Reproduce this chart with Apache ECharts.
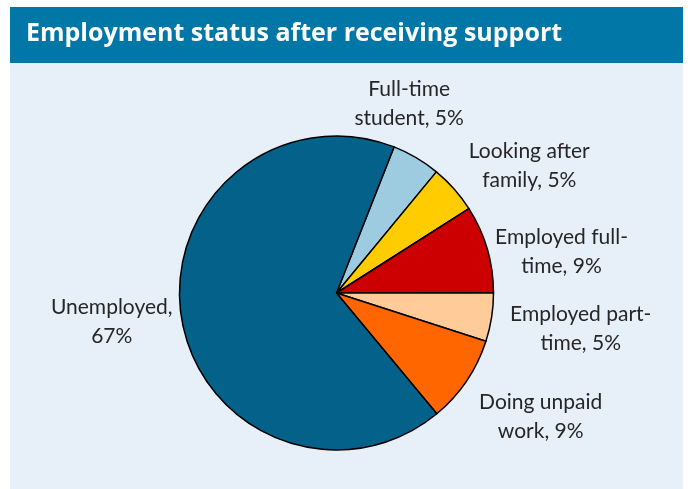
<!DOCTYPE html>
<html>
<head>
<meta charset="utf-8">
<script src="https://cdn.jsdelivr.net/npm/echarts@6/dist/echarts.min.js"></script>
<style>
  html, body { margin: 0; padding: 0; background: #ffffff; }
  #chart { width: 691px; height: 489px; }
</style>
</head>
<body>
<div id="chart"></div>
<script>
// Share of people by employment status after support (percent)
var categories = [
  'Full-time\nstudent',
  'Looking after\nfamily',
  'Employed full-\ntime',
  'Employed part-\ntime',
  'Doing unpaid\nwork',
  'Unemployed'
];
var shares = [5, 5, 9, 5, 9, 67];
var sliceColors = ['#9dcbdf', '#ffcc00', '#cc0000', '#ffcc99', '#ff6600', '#03618a'];

// Leader-line geometry used only to place each label (lines themselves are hidden)
var labelReach = [63, 35, -9, 71, 63, 22];
var labelShift = [-44, 44, 78, 14, 17, 43];

var chart = echarts.init(document.getElementById('chart'), null, { renderer: 'canvas' });

var pieData = categories.map(function (name, i) {
  return {
    name: name,
    value: shares[i],
    itemStyle: { color: sliceColors[i] },
    labelLine: { show: false, length: labelReach[i], length2: labelShift[i] }
  };
});

chart.setOption({
  animation: false,
  backgroundColor: '#ffffff',
  graphic: [
    { type: 'rect', shape: { x: 10, y: 7, width: 673, height: 482 }, style: { fill: '#e7eff9' }, z: -10 },
    { type: 'rect', shape: { x: 10, y: 7, width: 673, height: 56 }, style: { fill: '#0077a6' }, z: -9 }
  ],
  title: {
    text: 'Employment status after receiving support',
    left: 21,
    top: 16,
    textStyle: { color: '#ffffff', fontFamily: 'Open Sans', fontWeight: 'bold', fontSize: 25 }
  },
  series: [{
    type: 'pie',
    center: [336.5, 293],
    radius: 157,
    startAngle: 68.5,
    clockwise: true,
    avoidLabelOverlap: false,
    itemStyle: { borderColor: '#000000', borderWidth: 1.5 },
    label: {
      show: true,
      position: 'outside',
      color: '#262626',
      fontFamily: 'Lato',
      fontSize: 21,
      lineHeight: 29,
      formatter: function (p) {
        return p.name.indexOf('\n') >= 0
          ? p.name + ', ' + p.value + '%'
          : p.name + ',\n' + p.value + '%';
      }
    },
    labelLayout: { align: 'center' },
    emphasis: { disabled: true },
    data: pieData
  }]
});
</script>
</body>
</html>
